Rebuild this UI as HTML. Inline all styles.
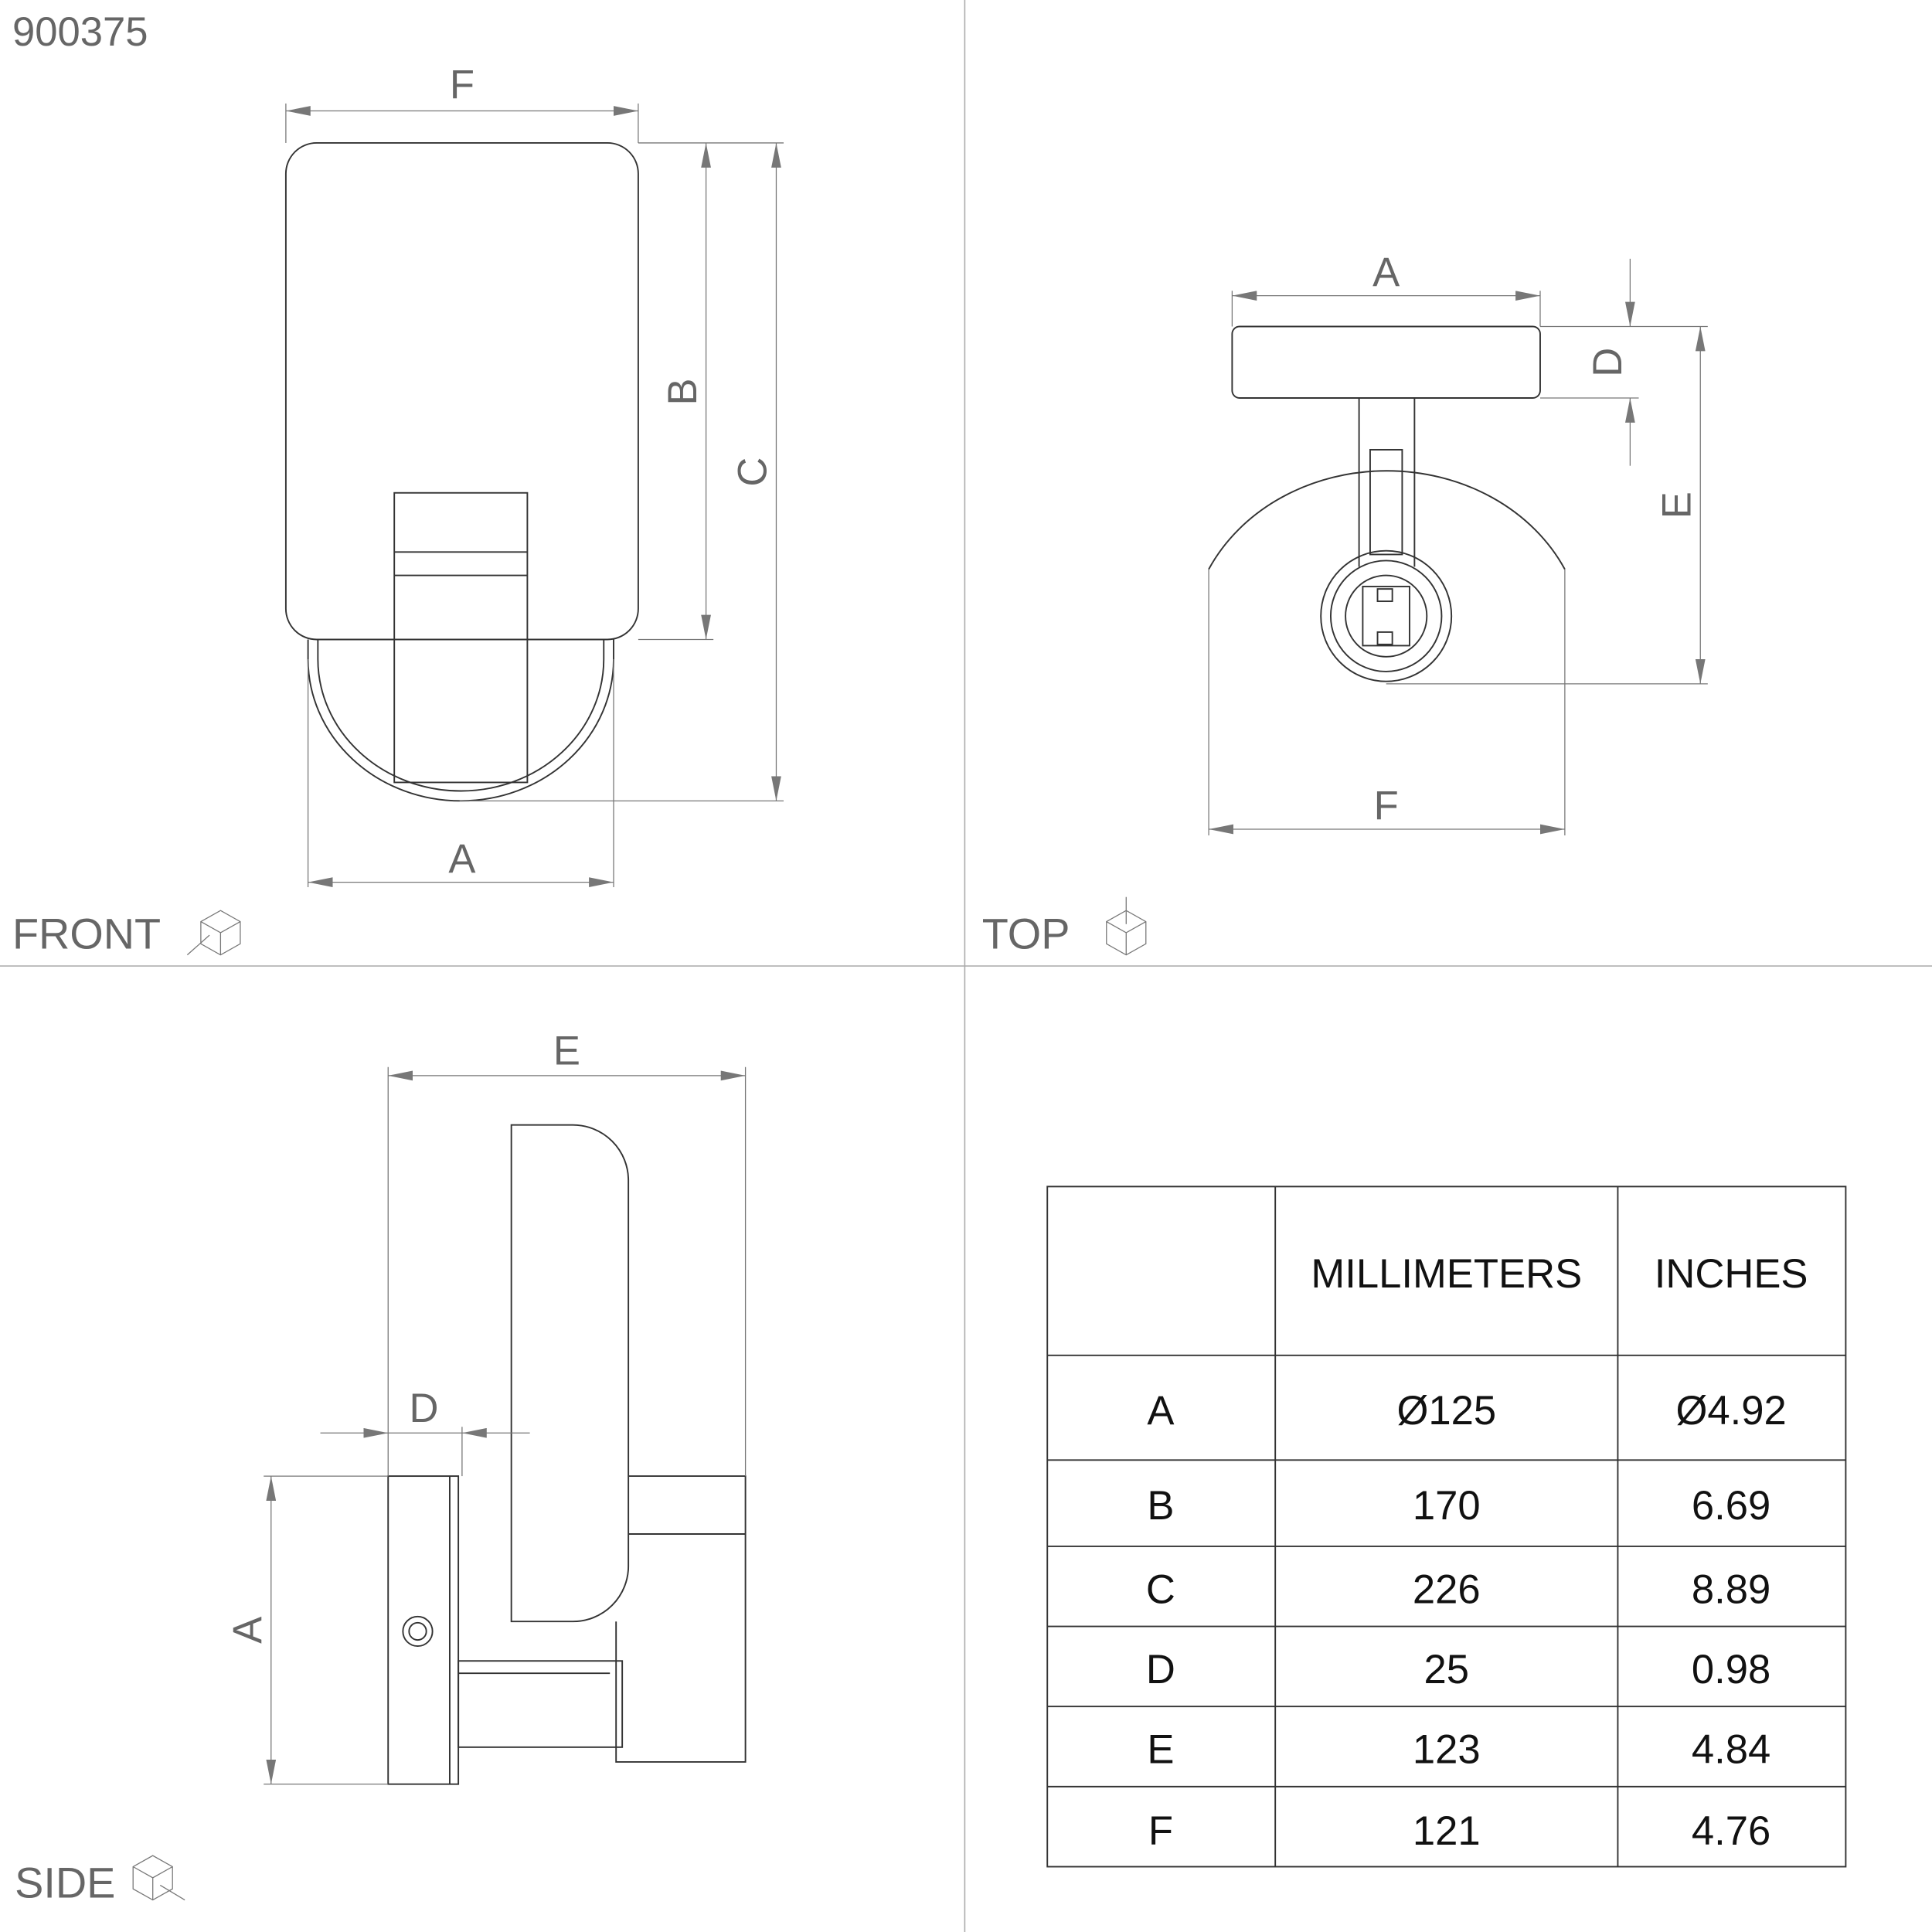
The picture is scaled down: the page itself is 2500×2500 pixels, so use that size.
<!DOCTYPE html>
<html><head><meta charset="utf-8"><style>
html,body{margin:0;padding:0;background:#fff}
svg{display:block}
text{font-family:"Liberation Sans",sans-serif;fill:#666}
.l{stroke:#333;stroke-width:1.2;fill:none}
.t{stroke:#777;stroke-width:0.8;fill:none}
.g{stroke:#aaa;stroke-width:1;fill:none}
</style></head><body>
<svg width="2500" height="2500" viewBox="0 0 1568 1568" xmlns="http://www.w3.org/2000/svg">
<defs>
<marker id="a" viewBox="0 0 20 8" refX="20" refY="4" markerWidth="20" markerHeight="8" markerUnits="userSpaceOnUse" orient="auto-start-reverse"><path d="M0,0L20,4L0,8z" fill="#777"/></marker>
</defs>
<line x1="783" y1="0" x2="783" y2="1568" class="g"/>
<line x1="0" y1="784" x2="1568" y2="784" class="g"/>
<text x="10" y="37" font-size="33" fill="#777">900375</text>
<text x="10" y="770" font-size="35">FRONT</text>
<text x="797" y="770" font-size="35">TOP</text>
<text x="12" y="1540" font-size="35">SIDE</text>
<g class="t"><path d="M163,748l16,-9l16,9v18l-16,9l-16,-9z M163,748l16,9l16,-9 M179,757v18"/><path d="M152,775l18,-16"/></g>
<g class="t"><path d="M898,748l16,-9l16,9v18l-16,9l-16,-9z M898,748l16,9l16,-9 M914,757v18"/><path d="M914,728v22"/></g>
<g class="t"><path d="M108,1515l16,-9l16,9v18l-16,9l-16,-9z M108,1515l16,9l16,-9 M124,1524v18"/><path d="M130,1530l20,12"/></g>

<rect x="232" y="116" width="286" height="403" rx="25" class="l"/>
<path d="M250,519 V535 A124,115 0 0 0 498,535 V519" class="l"/>
<path d="M258,519 V535 A116,107 0 0 0 490,535 V519" class="l"/>
<rect x="320" y="400" width="108" height="235" class="l"/>
<line x1="320" y1="448" x2="428" y2="448" class="l"/>
<line x1="320" y1="467" x2="428" y2="467" class="l"/>
<g class="t">
<line x1="232" y1="84" x2="232" y2="116"/><line x1="518" y1="84" x2="518" y2="116"/>
<line x1="232" y1="90" x2="518" y2="90" marker-start="url(#a)" marker-end="url(#a)"/>
<line x1="518" y1="116" x2="636" y2="116"/><line x1="518" y1="519" x2="579" y2="519"/><line x1="373" y1="650" x2="636" y2="650"/>
<line x1="573" y1="116" x2="573" y2="519" marker-start="url(#a)" marker-end="url(#a)"/>
<line x1="630" y1="116" x2="630" y2="650" marker-start="url(#a)" marker-end="url(#a)"/>
<line x1="250" y1="535" x2="250" y2="720"/><line x1="498" y1="535" x2="498" y2="720"/>
<line x1="250" y1="716" x2="498" y2="716" marker-start="url(#a)" marker-end="url(#a)"/>
</g>
<text x="375" y="80" font-size="33" text-anchor="middle">F</text>
<text x="375" y="708" font-size="33" text-anchor="middle">A</text>
<text transform="translate(565,318) rotate(-90)" font-size="33" text-anchor="middle">B</text>
<text transform="translate(622,383) rotate(-90)" font-size="33" text-anchor="middle">C</text>

<rect x="1000" y="265" width="250" height="58" rx="6" class="l"/>
<line x1="1103" y1="323" x2="1103" y2="460" class="l"/>
<line x1="1148" y1="323" x2="1148" y2="460" class="l"/>
<rect x="1112" y="365" width="26" height="85" class="l"/>
<path d="M981,462 A160,140 0 0 1 1270,462" class="l"/>
<circle cx="1125" cy="500" r="53" class="l"/>
<circle cx="1125" cy="500" r="45" class="l"/>
<circle cx="1125" cy="500" r="33" class="l"/>
<rect x="1106" y="476" width="38" height="48" class="l"/>
<rect x="1118" y="478" width="12" height="10" class="l"/>
<rect x="1118" y="513" width="12" height="10" class="l"/>
<g class="t">
<line x1="1000" y1="236" x2="1000" y2="265"/><line x1="1250" y1="236" x2="1250" y2="265"/>
<line x1="1000" y1="240" x2="1250" y2="240" marker-start="url(#a)" marker-end="url(#a)"/>
<line x1="1250" y1="265" x2="1386" y2="265"/><line x1="1250" y1="323" x2="1330" y2="323"/>
<line x1="1323" y1="210" x2="1323" y2="265" marker-end="url(#a)"/>
<line x1="1323" y1="378" x2="1323" y2="323" marker-end="url(#a)"/>
<line x1="1380" y1="265" x2="1380" y2="555" marker-start="url(#a)" marker-end="url(#a)"/>
<line x1="1125" y1="555" x2="1386" y2="555"/>
<line x1="981" y1="462" x2="981" y2="678"/><line x1="1270" y1="462" x2="1270" y2="678"/>
<line x1="981" y1="673" x2="1270" y2="673" marker-start="url(#a)" marker-end="url(#a)"/>
</g>
<text x="1125" y="232" font-size="33" text-anchor="middle">A</text>
<text x="1125" y="665" font-size="33" text-anchor="middle">F</text>
<text transform="translate(1316,294) rotate(-90)" font-size="33" text-anchor="middle">D</text>
<text transform="translate(1372,410) rotate(-90)" font-size="33" text-anchor="middle">E</text>

<rect x="315" y="1198" width="57" height="250" class="l"/>
<line x1="365" y1="1198" x2="365" y2="1448" class="l"/>
<path d="M415,913 H465 A45,45 0 0 1 510,958 V1271 A45,45 0 0 1 465,1316 H415 Z" class="l"/>
<path d="M510,1198 H605 V1430 H500 V1316" class="l"/>
<line x1="510" y1="1245" x2="605" y2="1245" class="l"/>
<rect x="372" y="1348" width="133" height="70" class="l"/>
<line x1="372" y1="1358" x2="495" y2="1358" class="l"/>
<circle cx="339" cy="1324" r="12" class="l"/>
<circle cx="339" cy="1324" r="7" class="l"/>
<g class="t">
<line x1="315" y1="866" x2="315" y2="1198"/><line x1="605" y1="866" x2="605" y2="1198"/>
<line x1="315" y1="873" x2="605" y2="873" marker-start="url(#a)" marker-end="url(#a)"/>
<line x1="260" y1="1163" x2="315" y2="1163" marker-end="url(#a)"/>
<line x1="430" y1="1163" x2="375" y2="1163" marker-end="url(#a)"/>
<line x1="315" y1="1163" x2="375" y2="1163"/>
<line x1="375" y1="1158" x2="375" y2="1198"/>
<line x1="214" y1="1198" x2="315" y2="1198"/><line x1="214" y1="1448" x2="315" y2="1448"/>
<line x1="220" y1="1198" x2="220" y2="1448" marker-start="url(#a)" marker-end="url(#a)"/>
</g>
<text x="460" y="864" font-size="33" text-anchor="middle">E</text>
<text x="344" y="1154" font-size="33" text-anchor="middle">D</text>
<text transform="translate(212,1323) rotate(-90)" font-size="33" text-anchor="middle">A</text>

<g stroke="#333" stroke-width="1.2" fill="none">
<rect x="850" y="963" width="648" height="552"/>
<line x1="1035" y1="963" x2="1035" y2="1515"/>
<line x1="1313" y1="963" x2="1313" y2="1515"/>
<line x1="850" y1="1100" x2="1498" y2="1100"/>
<line x1="850" y1="1185" x2="1498" y2="1185"/>
<line x1="850" y1="1255" x2="1498" y2="1255"/>
<line x1="850" y1="1320" x2="1498" y2="1320"/>
<line x1="850" y1="1385" x2="1498" y2="1385"/>
<line x1="850" y1="1450" x2="1498" y2="1450"/>
</g>
<g font-size="33" text-anchor="middle">
<text x="1174" y="1045" style="fill:#111">MILLIMETERS</text>
<text x="1405" y="1045" style="fill:#111">INCHES</text>
<text x="942" y="1156" style="fill:#111">A</text><text x="1174" y="1156" style="fill:#111">Ø125</text><text x="1405" y="1156" style="fill:#111">Ø4.92</text>
<text x="942" y="1233" style="fill:#111">B</text><text x="1174" y="1233" style="fill:#111">170</text><text x="1405" y="1233" style="fill:#111">6.69</text>
<text x="942" y="1301" style="fill:#111">C</text><text x="1174" y="1301" style="fill:#111">226</text><text x="1405" y="1301" style="fill:#111">8.89</text>
<text x="942" y="1366" style="fill:#111">D</text><text x="1174" y="1366" style="fill:#111">25</text><text x="1405" y="1366" style="fill:#111">0.98</text>
<text x="942" y="1431" style="fill:#111">E</text><text x="1174" y="1431" style="fill:#111">123</text><text x="1405" y="1431" style="fill:#111">4.84</text>
<text x="942" y="1497" style="fill:#111">F</text><text x="1174" y="1497" style="fill:#111">121</text><text x="1405" y="1497" style="fill:#111">4.76</text>
</g>
</svg>
</body></html>
